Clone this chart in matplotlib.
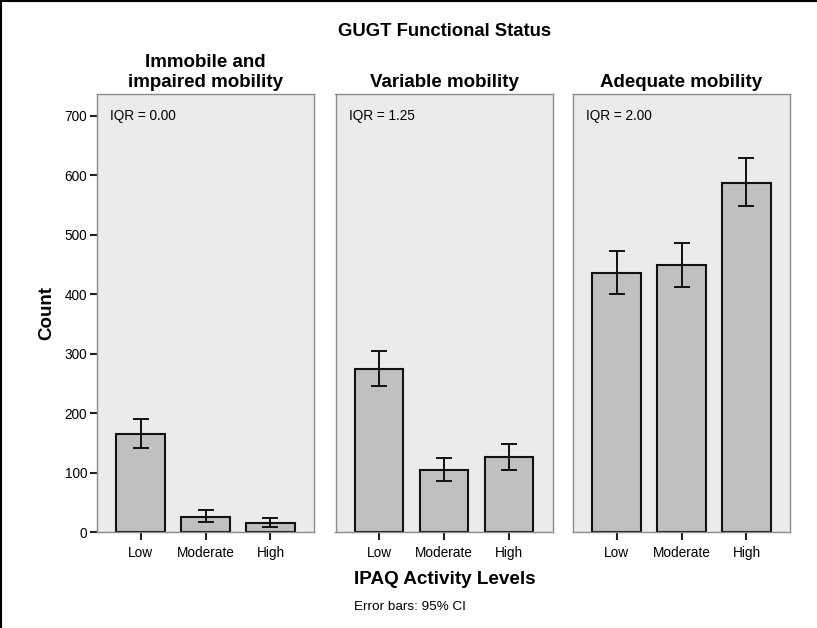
import numpy as np
import matplotlib.pyplot as plt
from matplotlib.lines import Line2D

plt.rcParams['font.family'] = ['Liberation Sans', 'DejaVu Sans']

levels = ["Low", "Moderate", "High"]
groups = ["Immobile and\nimpaired mobility", "Variable mobility", "Adequate mobility"]
iqr_labels = ["IQR = 0.00", "IQR = 1.25", "IQR = 2.00"]

# counts per group, and 95% CI bounds
counts = [[165, 26, 15], [274, 105, 126], [436, 450, 588]]
ci_low = [[142, 17, 9], [245, 86, 105], [400, 413, 548]]
ci_high = [[190, 37, 24], [305, 125, 148], [473, 486, 629]]

fig = plt.figure(figsize=(8.17, 6.28), dpi=100)

lefts = [97, 335.5, 573]
W, H = 817, 628
x = np.arange(len(levels))

for i in range(3):
    ax = fig.add_axes([lefts[i] / W, (H - 532) / H, 217 / W, (532 - 94) / H])
    ax.set_facecolor("#ebebeb")
    ax.bar(x, counts[i], width=0.75, color="#c0c0c0", edgecolor="#111111",
           linewidth=1.5, zorder=2)
    lo = np.array(counts[i]) - np.array(ci_low[i])
    hi = np.array(ci_high[i]) - np.array(counts[i])
    ax.errorbar(x, counts[i], yerr=[lo, hi], fmt="none", ecolor="#111111",
                elinewidth=1.4, capsize=5.5, capthick=1.4, zorder=3)
    ax.set_xlim(-0.67, 2.67)
    ax.set_ylim(0, 737)
    ax.set_xticks(x)
    ax.set_xticklabels(levels, fontsize=9.8)
    ax.tick_params(axis="x", length=6, width=1.5, color="#222222", pad=4)
    for s in ax.spines.values():
        s.set_color("#8c8c8c")
        s.set_linewidth(1)
    if i == 0:
        ax.set_yticks(np.arange(0, 701, 100))
        ax.tick_params(axis="y", length=5, width=1.5, color="#222222",
                       labelsize=9.8, pad=2)
        ax.set_ylabel("Count", fontsize=13.5, fontweight="bold", labelpad=7)
    else:
        ax.set_yticks([])
    ax.text(0.06, 0.95, iqr_labels[i], transform=ax.transAxes, fontsize=9.8,
            va="center", ha="left")
    ax.set_title(groups[i], fontsize=13.5, fontweight="bold", pad=5,
                 linespacing=1.2)

fig.text(445 / W, 1 - 31 / H, "GUGT Functional Status", ha="center",
         va="center", fontsize=13.3, fontweight="bold")
fig.text(445 / W, 1 - 580 / H, "IPAQ Activity Levels", ha="center",
         va="center", fontsize=13.6, fontweight="bold")
fig.text(354 / W, 1 - 607 / H, "Error bars: 95% CI", ha="left",
         va="center", fontsize=9.7)

# frame lines at top and left of the figure
fig.add_artist(Line2D([0, 1], [0.999, 0.999], color="black", lw=1.5,
                      transform=fig.transFigure))
fig.add_artist(Line2D([0.001, 0.001], [0, 1], color="black", lw=1.5,
                      transform=fig.transFigure))

fig.savefig("out.png", dpi=100)
